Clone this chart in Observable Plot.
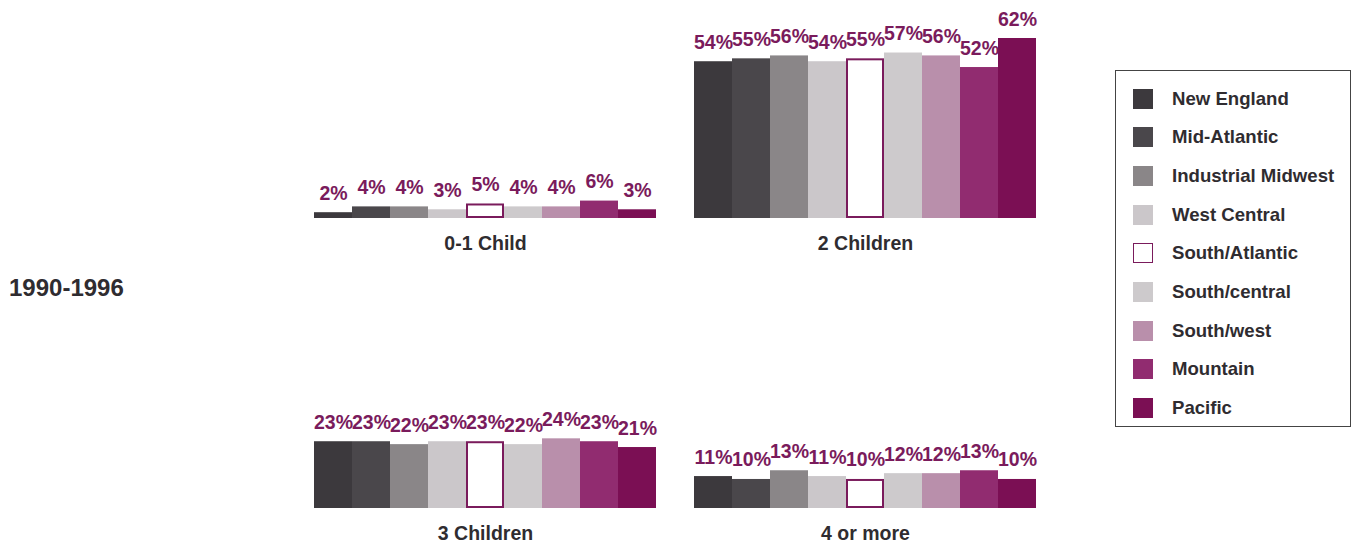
<!DOCTYPE html>
<html>
<head>
<meta charset="utf-8">
<script src="https://cdn.jsdelivr.net/npm/d3@7"></script>
<script src="https://cdn.jsdelivr.net/npm/@observablehq/plot@0.6"></script>
<style>
  html, body { margin: 0; padding: 0; background: #fff; }
  #chart { position: relative; width: 1357px; height: 545px; font-family: "Liberation Sans", Arial, Helvetica, sans-serif; font-weight: bold; color: #2f2c30; }
  #chart svg { position: absolute; left: 0; top: 0; }
  #period { position: absolute; left: 9px; top: 276px; font-size: 24px; line-height: 24px; }
  #legend { position: absolute; left: 1115px; top: 70px; width: 236px; height: 357px; border: 1.5px solid #444; box-sizing: border-box; }
  .row { position: absolute; left: 17px; height: 20px; display: flex; align-items: center; }
  .sw { width: 20px; height: 20px; box-sizing: border-box; margin-right: 19px; }
  .lab { font-size: 18.6px; line-height: 20px; white-space: nowrap; }
</style>
</head>
<body>
<div id="chart">
  <div id="period"></div>
  <div id="legend"></div>
</div>
<script>
// Regions, in bar order
const regions = ["New England", "Mid-Atlantic", "Industrial Midwest", "West Central", "South/Atlantic", "South/central", "South/west", "Mountain", "Pacific"];
const regionColors = ["#3c393d", "#4a474b", "#8a8688", "#cbc7ca", "#ffffff", "#cdcacc", "#b98fab", "#912c70", "#7b0f54"];

// Family size panels: name, column, row
const panels = ["0-1 Child", "2 Children", "3 Children", "4 or more"];
const panelCols = [0, 1, 0, 1];
const panelRows = [0, 0, 1, 1];

// Share of families (%) per region
const oneChild = [2, 4, 4, 3, 5, 4, 4, 6, 3];
const twoChildren = [54, 55, 56, 54, 55, 57, 56, 52, 62];
const threeChildren = [23, 23, 22, 23, 23, 22, 24, 23, 21];
const fourOrMore = [11, 10, 13, 11, 10, 12, 12, 13, 10];

const period = "1990-1996";

const purple = "#7a1b5c";
const ink = "#2f2c30";

const seriesByPanel = [oneChild, twoChildren, threeChildren, fourOrMore];
const rows = [];
panels.forEach((p, i) => {
  regions.forEach((r, j) => {
    rows.push({panel: p, col: panelCols[i], row: panelRows[i], region: r, value: seriesByPanel[i][j]});
  });
});
const panelRowsData = panels.map((p, i) => ({panel: p, col: panelCols[i], row: panelRows[i]}));

const chart = Plot.plot({
  width: 1357,
  height: 545,
  marginLeft: 313,
  marginRight: 320,
  marginTop: 38,
  marginBottom: 37,
  style: {fontFamily: '"Liberation Sans", Arial, Helvetica, sans-serif', fontWeight: "bold", background: "transparent"},
  fx: {domain: [0, 1], paddingInner: 36 / 380, paddingOuter: 0, axis: null},
  fy: {domain: [0, 1], paddingInner: 110 / 290, paddingOuter: 0, axis: null},
  x: {domain: regions, padding: 0, axis: null},
  y: {domain: [0, 62], axis: null},
  color: {domain: regions, range: regionColors},
  marks: [
    Plot.barY(rows, {fx: "col", fy: "row", x: "region", y: "value", fill: "region"}),
    // South/Atlantic bars are drawn as purple outlines
    Plot.barY(rows.filter(d => d.region === "South/Atlantic"), {
      fx: "col", fy: "row", x: "region", y: "value",
      fill: "white", stroke: purple, strokeWidth: 2, inset: 1
    }),
    Plot.text(rows, {
      fx: "col", fy: "row", x: "region", y: "value",
      text: d => d.value + "%",
      lineAnchor: "bottom", dy: -13,
      fill: purple, fontSize: 19.5, fontWeight: "bold"
    }),
    Plot.text(panelRowsData, {
      fx: "col", fy: "row", text: "panel",
      frameAnchor: "bottom", dy: 31,
      fill: ink, fontSize: 19.5, fontWeight: "bold"
    })
  ]
});
document.getElementById("chart").appendChild(chart);

document.getElementById("period").textContent = period;

// Legend
const legend = document.getElementById("legend");
regions.forEach((r, i) => {
  const row = document.createElement("div");
  row.className = "row";
  row.style.top = (17.5 + i * 38.7) + "px";
  const sw = document.createElement("div");
  sw.className = "sw";
  sw.style.background = regionColors[i];
  if (r === "South/Atlantic") sw.style.border = "1.5px solid " + purple;
  const lab = document.createElement("div");
  lab.className = "lab";
  lab.textContent = r;
  row.appendChild(sw);
  row.appendChild(lab);
  legend.appendChild(row);
});
</script>
</body>
</html>
